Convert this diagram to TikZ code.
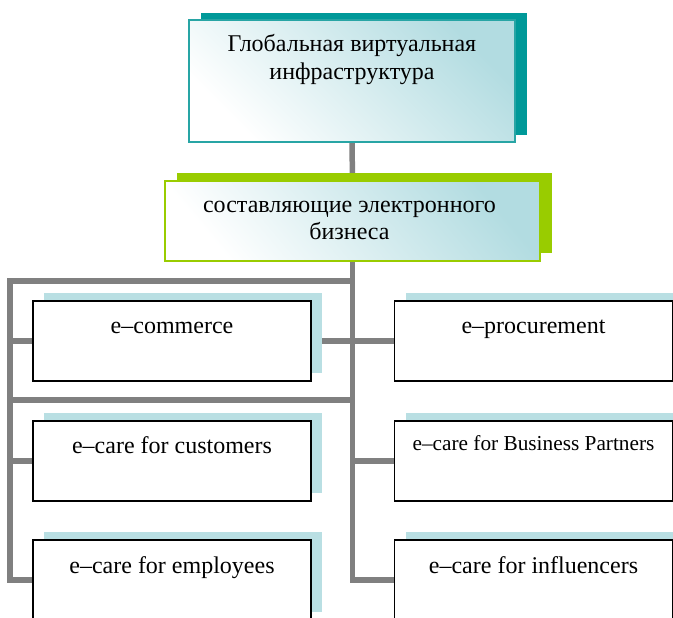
\documentclass[tikz,border=0pt]{standalone}
\usepackage{fontspec}
\setmainfont{Liberation Serif}
\usetikzlibrary{shadows,backgrounds}
\definecolor{tealdark}{RGB}{0,153,153}
\definecolor{tealline}{RGB}{40,165,165}
\definecolor{tealpale}{RGB}{178,220,225}
\definecolor{limegreen}{RGB}{153,204,0}
\definecolor{paleblue}{RGB}{185,223,227}
\definecolor{linegray}{RGB}{128,128,128}
\begin{document}
\begin{tikzpicture}[x=1pt,y=-1pt,
  conn/.style={draw=linegray,line width=5.5pt},
  topbox/.style={rectangle,draw=tealline,line width=2pt,
    top color=tealpale,middle color=white,bottom color=white,shading angle=-45,
    general shadow={fill=tealdark,shadow xshift=12pt,shadow yshift=7pt},
    minimum width=326pt,minimum height=122pt,inner sep=0pt,outer sep=0pt},
  midbox/.style={rectangle,draw=limegreen,line width=2.5pt,
    top color=tealpale,middle color=white,bottom color=white,shading angle=-50,
    general shadow={fill=limegreen,shadow xshift=12pt,shadow yshift=8pt},
    minimum width=375pt,minimum height=80pt,inner sep=0pt,outer sep=0pt},
  lowbox/.style={rectangle,draw=black,line width=1.6pt,fill=white,
    general shadow={fill=paleblue,shadow xshift=11pt,shadow yshift=8pt},
    minimum width=278pt,minimum height=80pt,inner sep=0pt,outer sep=0pt},
  lbl/.style={inner sep=0pt,outer sep=0pt,align=center,
    font=\fontsize{24}{27.5}\selectfont},
  toplbl/.style={inner sep=0pt,outer sep=0pt,align=center,
    font=\fontsize{24}{28}\selectfont},
  midlbl/.style={inner sep=0pt,outer sep=0pt,align=center,
    font=\fontsize{24}{27}\selectfont},
  smalllbl/.style={inner sep=0pt,outer sep=0pt,align=center,
    font=\fontsize{21.3}{24}\selectfont}
]
\useasboundingbox (0,0) rectangle (673,618);
\clip (0,0) rectangle (673,618);

% boxes
\node[topbox] (gvi) at (352,81) {};
\node[midbox] (seb) at (352.5,221) {};
\node[lowbox] (ecom) at (172,341) {};
\node[lowbox] (eproc) at (533.5,341) {};
\node[lowbox] (ecust) at (172,461) {};
\node[lowbox] (epart) at (533.5,461) {};
\node[lowbox] (eempl) at (172,580) {};
\node[lowbox] (einfl) at (533.5,580) {};

% texts (base anchor of a two-line node is the last line's baseline)
\node[toplbl,anchor=base] (tgvi) at ([yshift=-60pt]gvi.north) {Глобальная виртуальная\\инфраструктура};
\node[midlbl,anchor=base] (tseb) at ([xshift=-3pt,yshift=-58pt]seb.north) {составляющие электронного\\бизнеса};
\node[lbl,anchor=base] (tecom) at ([yshift=-32pt]ecom.north) {e–commerce};
\node[lbl,anchor=base] (teproc) at ([yshift=-32pt]eproc.north) {e–procurement};
\node[lbl,anchor=base] (tecust) at ([yshift=-32pt]ecust.north) {e–care for customers};
\node[smalllbl,anchor=base] (tepart) at ([yshift=-29pt]epart.north) {e–care for Business Partners};
\node[lbl,anchor=base] (teempl) at ([yshift=-33pt]eempl.north) {e–care for employees};
\node[lbl,anchor=base] (teinfl) at ([yshift=-33pt]einfl.north) {e–care for influencers};

% connectors
\coordinate (lspine) at (10,281);
\coordinate (lrow) at (10,400);
\begin{scope}[on background layer]
\draw[conn] (gvi.south) -- (seb.north);
\draw[conn] (seb.south) |- (einfl.west);
\draw[conn] (seb.south |- lspine) -- (lspine) |- (eempl.west);
\draw[conn] (lspine |- ecom.west) -- (eproc.west);
\draw[conn] (lrow) -- (lrow -| seb.south);
\draw[conn] (lspine |- ecust.west) -- (ecust.west);
\draw[conn] (seb.south |- epart.west) -- (epart.west);
\end{scope}
\end{tikzpicture}
\end{document}
